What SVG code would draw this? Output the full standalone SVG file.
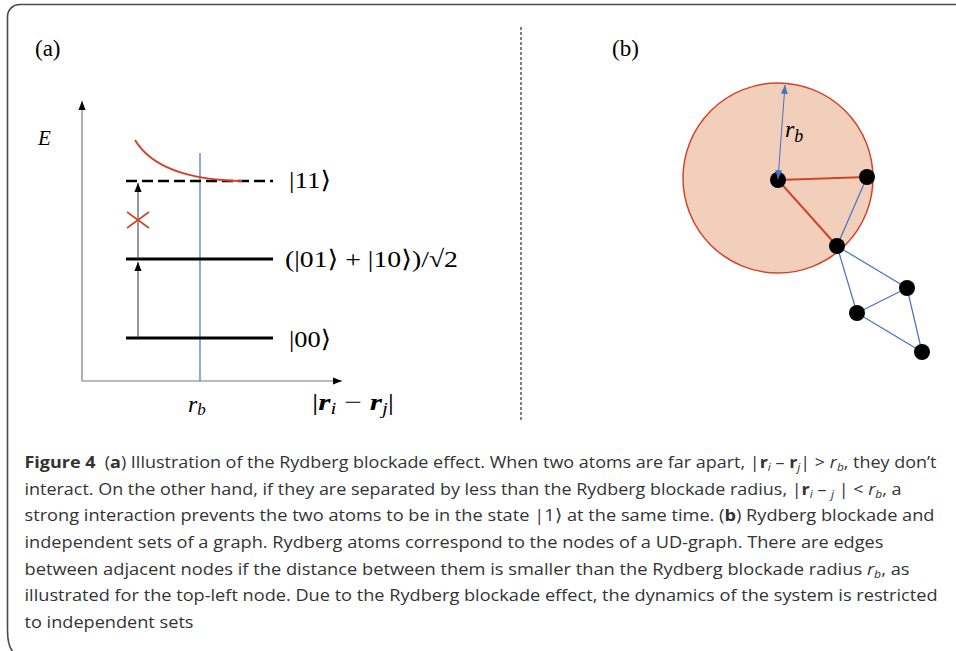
<svg xmlns="http://www.w3.org/2000/svg" width="956" height="651" viewBox="0 0 956 651">
<style>
.serif{font-family:"Liberation Serif","DejaVu Serif","DejaVu Sans",serif;fill:#000}
.math{font-family:"Liberation Serif","DejaVu Serif","DejaVu Sans",serif;fill:#000;font-size:24px}
.level{stroke:#000;stroke-width:3;fill:none}
.blue{stroke:#4472C4;stroke-width:1.2;fill:none}
.red{stroke:#D0452A;stroke-width:2;fill:none}
.node{fill:#000}
.cap{font-family:"Open Sans","Noto Sans","Liberation Sans",sans-serif;font-size:16.5px;fill:#333}
.b{font-weight:bold}
.i{font-style:italic}
</style>
<defs>
<marker id="ah" viewBox="0 0 10 8" refX="10" refY="4" markerWidth="9" markerHeight="8" markerUnits="userSpaceOnUse" orient="auto">
<path d="M0,0 L10,4 L0,8 z" fill="#000"/>
</marker>
<marker id="ahb" viewBox="0 0 10 8" refX="10" refY="4" markerWidth="9" markerHeight="7" markerUnits="userSpaceOnUse" orient="auto-start-reverse">
<path d="M0,0 L10,4 L0,8 z" fill="#4472C4"/>
</marker>
</defs>

<!-- frame -->
<path d="M956,4.5 H20 A12,12 0 0 0 7.5,16.5 V630 Q7.5,646 13,652" fill="none" stroke="#4a4a4a" stroke-width="1.6"/>

<!-- panel a -->
<g id="panel-a">
<text class="serif" x="35" y="56" font-size="23">(a)</text>
<text class="serif" x="38" y="145" font-size="21" font-style="italic">E</text>
<g id="axes">
<line x1="82" y1="381" x2="82" y2="101" stroke="#777" stroke-width="1.2" marker-end="url(#ah)"/>
<line x1="82" y1="381" x2="342" y2="381" stroke="#777" stroke-width="1.2" marker-end="url(#ah)"/>
</g>
<line id="rb-line" x1="200" y1="153" x2="200" y2="381" stroke="#4472C4" stroke-width="1.2"/>
<g id="level-11">
<line x1="126" y1="181" x2="273" y2="181" stroke="#000" stroke-width="2.5" stroke-dasharray="11,5"/>
<text class="math" x="289" y="188" textLength="42" lengthAdjust="spacingAndGlyphs">|11⟩</text>
</g>
<path id="curve" d="M135,140 C150,165 185,180 242,181" class="red"/>
<g id="level-01">
<line x1="126" y1="259" x2="273" y2="259" class="level"/>
<text class="math" x="285" y="267" textLength="173" lengthAdjust="spacingAndGlyphs">(|01⟩ + |10⟩)/√2</text>
</g>
<g id="level-00">
<line x1="126" y1="338" x2="273" y2="338" class="level"/>
<text class="math" x="289" y="347" textLength="42" lengthAdjust="spacingAndGlyphs">|00⟩</text>
</g>
<g id="connectors-a">
<line x1="138" y1="338" x2="138" y2="262" stroke="#333" stroke-width="1" marker-end="url(#ah)"/>
<line x1="138" y1="259" x2="138" y2="183" stroke="#333" stroke-width="1" marker-end="url(#ah)"/>
</g>
<g id="cross" stroke="#D0452A" stroke-width="1.6">
<line x1="127" y1="212" x2="149" y2="228"/>
<line x1="127" y1="228" x2="149" y2="212"/>
</g>
<text class="math" x="188" y="412" font-style="italic">r<tspan font-size="17" dy="3">b</tspan></text>
<text class="math" x="312" y="410" textLength="82" lengthAdjust="spacingAndGlyphs">|<tspan font-weight="bold" font-style="italic">r</tspan><tspan font-size="16" font-style="italic" dy="4">i</tspan><tspan dy="-4"> − </tspan><tspan font-weight="bold" font-style="italic">r</tspan><tspan font-size="16" font-style="italic" dy="4">j</tspan><tspan dy="-4">|</tspan></text>
</g>

<!-- divider -->
<line x1="521" y1="27" x2="521" y2="422" stroke="#000" stroke-width="1" stroke-dasharray="3,2"/>

<!-- panel b -->
<g id="panel-b">
<text class="serif" x="612" y="56" font-size="23">(b)</text>
<circle id="blockade" cx="778" cy="178" r="95" fill="#F2CFBB" stroke="#D0452A" stroke-width="1.5"/>
<g id="edges">
<line x1="778" y1="180" x2="867" y2="177" class="red"/>
<line x1="778" y1="180" x2="837" y2="246" class="red"/>
<line x1="867" y1="177" x2="837" y2="246" class="blue"/>
<line x1="837" y1="246" x2="907" y2="288" class="blue"/>
<line x1="837" y1="246" x2="857" y2="313" class="blue"/>
<line x1="907" y1="288" x2="857" y2="313" class="blue"/>
<line x1="907" y1="288" x2="922" y2="352" class="blue"/>
<line x1="857" y1="313" x2="922" y2="352" class="blue"/>
</g>
<g id="n1"><circle cx="778" cy="180" r="8" class="node"/></g>
<g id="n2"><circle cx="867" cy="177" r="8" class="node"/></g>
<g id="n3"><circle cx="837" cy="246" r="8" class="node"/></g>
<g id="n4"><circle cx="907" cy="288" r="8" class="node"/></g>
<g id="n5"><circle cx="857" cy="313" r="8" class="node"/></g>
<g id="n6"><circle cx="922" cy="352" r="8" class="node"/></g>
<line id="radius" x1="778" y1="179" x2="785" y2="85" stroke="#4472C4" stroke-width="1" marker-start="url(#ahb)" marker-end="url(#ahb)"/>
<text class="math" x="785" y="137" font-size="25" font-style="italic">r<tspan font-size="18" dy="5">b</tspan></text>
</g>

<!-- caption -->
<g id="caption" class="cap">
<text x="24.5" y="468" textLength="912" lengthAdjust="spacingAndGlyphs"><tspan class="b">Figure 4</tspan>&#160; (<tspan class="b">a</tspan>) Illustration of the Rydberg blockade effect. When two atoms are far apart, |<tspan class="b">r</tspan><tspan class="i" font-size="11" dy="3">i</tspan><tspan dy="-3"> – </tspan><tspan class="b">r</tspan><tspan class="i" font-size="11" dy="3">j</tspan><tspan dy="-3">| &gt; </tspan><tspan class="i">r</tspan><tspan class="i" font-size="11" dy="3">b</tspan><tspan dy="-3">, they don’t</tspan></text>
<text x="24.5" y="494.5" textLength="877" lengthAdjust="spacingAndGlyphs">interact. On the other hand, if they are separated by less than the Rydberg blockade radius, |<tspan class="b">r</tspan><tspan class="i" font-size="11" dy="3">i</tspan><tspan dy="-3"> – </tspan><tspan class="i" font-size="11" dy="3">j</tspan><tspan dy="-3"> | &lt; </tspan><tspan class="i">r</tspan><tspan class="i" font-size="11" dy="3">b</tspan><tspan dy="-3">, a</tspan></text>
<text x="24.5" y="521" textLength="910" lengthAdjust="spacingAndGlyphs">strong interaction prevents the two atoms to be in the state |1⟩ at the same time. (<tspan class="b">b</tspan>) Rydberg blockade and</text>
<text x="24.5" y="548" textLength="859" lengthAdjust="spacingAndGlyphs">independent sets of a graph. Rydberg atoms correspond to the nodes of a UD-graph. There are edges</text>
<text x="24.5" y="574.5" textLength="885" lengthAdjust="spacingAndGlyphs">between adjacent nodes if the distance between them is smaller than the Rydberg blockade radius <tspan class="i">r</tspan><tspan class="i" font-size="11" dy="3">b</tspan><tspan dy="-3">, as</tspan></text>
<text x="24.5" y="601" textLength="913" lengthAdjust="spacingAndGlyphs">illustrated for the top-left node. Due to the Rydberg blockade effect, the dynamics of the system is restricted</text>
<text x="24.5" y="628" textLength="169" lengthAdjust="spacingAndGlyphs">to independent sets</text>
</g>
</svg>
